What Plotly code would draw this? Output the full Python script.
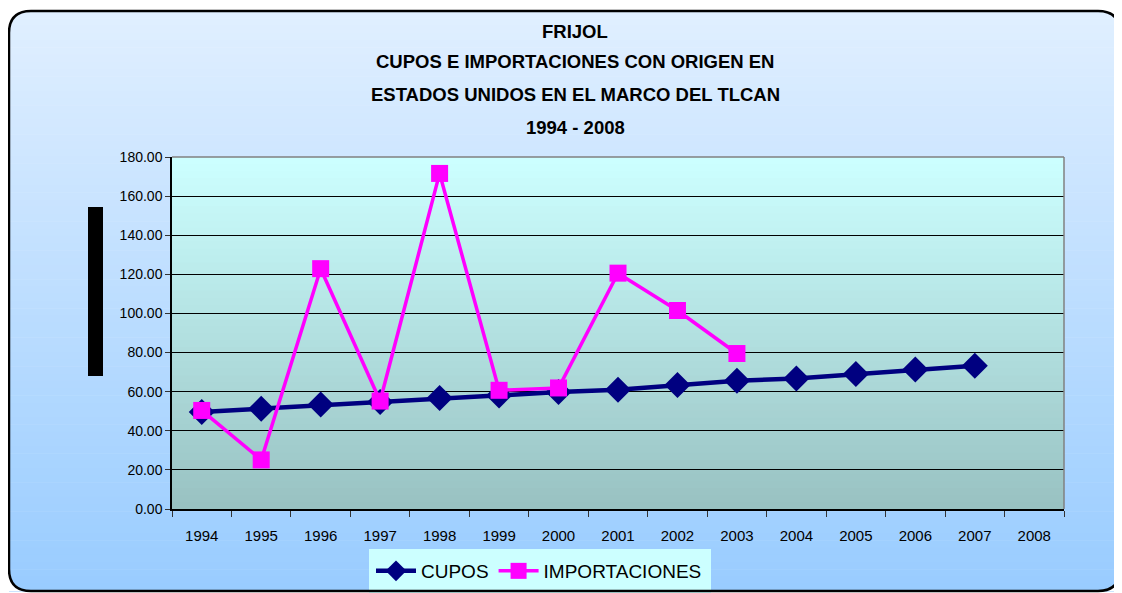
import plotly.graph_objects as go

years = ['1994', '1995', '1996', '1997', '1998', '1999', '2000', '2001',
         '2002', '2003', '2004', '2005', '2006', '2007', '2008']
cupos = [49.6, 51.3, 53.5, 54.7, 56.8, 58.1, 59.8, 61.0, 63.4, 65.6,
         66.7, 69.0, 71.3, 73.3, None]
importaciones = [50.4, 25.1, 122.9, 55.2, 171.6, 60.7, 61.9, 120.6, 101.5, 79.5,
                 None, None, None, None, None]
title_lines = ['FRIJOL', 'CUPOS E IMPORTACIONES CON ORIGEN EN',
               'ESTADOS UNIDOS EN EL MARCO DEL TLCAN', '1994 - 2008']

# page has an 8px body margin; figure is made taller than the window so the
# legend never pushes the bottom margin (the extra part is simply off-screen)
OFF = 8
W, H = 1122 - OFF, 680
L, R, T, B = 172, 1064, 157, 509  # plot area in page pixels


def px(p):
    return (p - L) / (R - L)


def py(p):
    return (B - p) / (B - T)


def mix(c1, c2, t):
    return 'rgb(%d,%d,%d)' % tuple(round(a + (b - a) * t) for a, b in zip(c1, c2))


shapes = []

# outer panel gradient (light blue -> blue)
x0, x1, y0, y1, r = 9, 1120, 11, 591, 22
n = 80
for i in range(n):
    ya = y0 + (y1 - y0) * i / n
    yb = y0 + (y1 - y0) * (i + 1) / n + 0.6
    shapes.append(dict(type='rect', xref='paper', yref='paper', layer='below',
                       x0=px(x0), x1=px(x1), y0=py(ya), y1=py(yb),
                       fillcolor=mix((224, 239, 255), (153, 204, 255), i / (n - 1)),
                       line=dict(width=0)))

# white corner masks so the panel looks rounded
for cx, cy, sx, sy in [(x0, y0, 1, 1), (x1, y0, -1, 1), (x0, y1, 1, -1), (x1, y1, -1, -1)]:
    path = 'M %f,%f L %f,%f Q %f,%f %f,%f Z' % (
        px(cx), py(cy), px(cx + sx * r), py(cy), px(cx), py(cy), px(cx), py(cy + sy * r))
    shapes.append(dict(type='path', xref='paper', yref='paper', layer='below', path=path,
                       fillcolor='white', line=dict(width=0)))

# legend background box (runs off the bottom edge like the original)
shapes.append(dict(type='rect', xref='paper', yref='paper', layer='below',
                   x0=px(369), x1=px(711), y0=py(549), y1=py(600),
                   fillcolor='#ccffff', line=dict(width=0)))

border = ('M %f,%f L %f,%f Q %f,%f %f,%f L %f,%f Q %f,%f %f,%f '
          'L %f,%f Q %f,%f %f,%f L %f,%f Q %f,%f %f,%f Z') % (
    px(x0 + r), py(y0), px(x1 - r), py(y0), px(x1), py(y0), px(x1), py(y0 + r),
    px(x1), py(y1 - r), px(x1), py(y1), px(x1 - r), py(y1),
    px(x0 + r), py(y1), px(x0), py(y1), px(x0), py(y1 - r),
    px(x0), py(y0 + r), px(x0), py(y0), px(x0 + r), py(y0))
shapes.append(dict(type='path', xref='paper', yref='paper', layer='below', path=border,
                   line=dict(color='black', width=2.5)))

# plot area gradient (pale cyan -> grey teal)
n = 50
for i in range(n):
    shapes.append(dict(type='rect', xref='paper', yref='paper', layer='below',
                       x0=0, x1=1, y0=1 - i / n, y1=1 - (i + 1) / n - 0.003,
                       fillcolor=mix((204, 255, 255), (153, 194, 194), i / (n - 1)),
                       line=dict(width=0)))

# black block where the y axis title would be
shapes.append(dict(type='rect', xref='paper', yref='paper', layer='below',
                   x0=px(88), x1=px(103), y0=py(207), y1=py(376),
                   fillcolor='black', line=dict(width=0)))

# grey top and right plot border
shapes.append(dict(type='line', xref='paper', yref='paper', x0=0, x1=1, y0=1, y1=1,
                   line=dict(color='#808080', width=1.5)))
shapes.append(dict(type='line', xref='paper', yref='paper', x0=1, x1=1, y0=0, y1=1,
                   line=dict(color='#808080', width=1.5)))

annotations = []
for txt, yy in zip(title_lines, [32, 61, 94, 127]):
    annotations.append(dict(text='<b>%s</b>' % txt, xref='paper', yref='paper',
                            x=px(575), y=py(yy), showarrow=False,
                            xanchor='center', yanchor='middle',
                            font=dict(family='Liberation Sans, Arial', size=18.5, color='black')))

fig = go.Figure()
fig.add_trace(go.Scatter(x=years, y=cupos, name='CUPOS', mode='lines+markers',
                         line=dict(color='#000080', width=4.5),
                         marker=dict(symbol='diamond', size=20, color='#000080')))
fig.add_trace(go.Scatter(x=years, y=importaciones, name='IMPORTACIONES', mode='lines+markers',
                         line=dict(color='#ff00ff', width=3.5),
                         marker=dict(symbol='square', size=17, color='#ff00ff')))

fig.update_xaxes(type='category', range=[-0.5, 14.5], showgrid=False,
                 showline=True, linecolor='black', linewidth=1.5,
                 ticks='outside', tickson='boundaries', ticklen=6, tickcolor='#333333',
                 ticklabelstandoff=12,
                 tickfont=dict(family='Liberation Sans, Arial', size=15, color='black'))
fig.update_yaxes(range=[0, 180], dtick=20, tickformat='.2f',
                 showline=True, linecolor='black', linewidth=1.5,
                 ticks='outside', ticklen=5, tickcolor='#333333',
                 showgrid=True, gridcolor='black', gridwidth=1, zeroline=False,
                 tickfont=dict(family='Liberation Sans, Arial', size=14, color='black'))

fig.update_layout(
    width=W, height=H,
    margin=dict(l=L - OFF, r=W - (R - OFF), t=T - OFF, b=H - (B - OFF)),
    paper_bgcolor='white', plot_bgcolor='rgba(0,0,0,0)',
    shapes=shapes, annotations=annotations,
    showlegend=True,
    legend=dict(orientation='h', x=px(371), y=py(571), xanchor='left', yanchor='middle',
                bgcolor='rgba(0,0,0,0)', borderwidth=0,
                font=dict(family='Liberation Sans Narrow, Liberation Sans, Arial', size=19,
                          color='black'),
                itemwidth=40, tracegroupgap=0),
)

fig.write_html('out.html')
